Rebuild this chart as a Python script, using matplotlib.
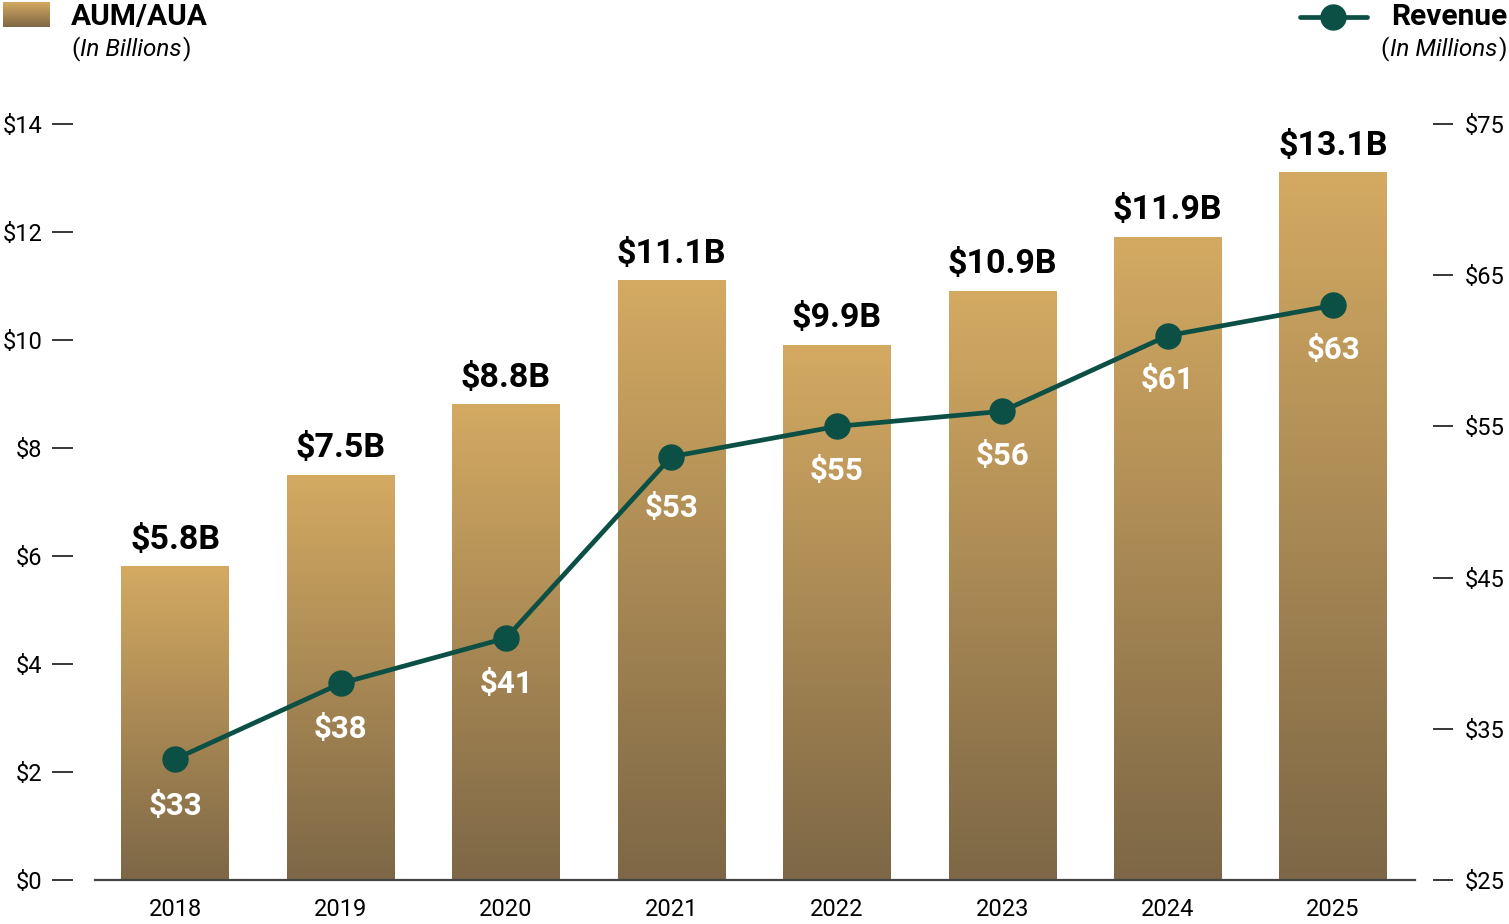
import numpy as np
import matplotlib
matplotlib.use("Agg")
import matplotlib.pyplot as plt
from matplotlib.colors import LinearSegmentedColormap
from matplotlib.lines import Line2D

years = ['2018', '2019', '2020', '2021', '2022', '2023', '2024', '2025']
aum = [5.8, 7.5, 8.8, 11.1, 9.9, 10.9, 11.9, 13.1]
aum_labels = ['$5.8B', '$7.5B', '$8.8B', '$11.1B', '$9.9B', '$10.9B', '$11.9B', '$13.1B']
revenue = [33, 38, 41, 53, 55, 56, 61, 63]
rev_labels = ['$33', '$38', '$41', '$53', '$55', '$56', '$61', '$63']
left_ticks = [0, 2, 4, 6, 8, 10, 12, 14]
right_ticks = [25, 35, 45, 55, 65, 75]

plt.rcParams['font.family'] = ['Roboto', 'DejaVu Sans']

gold_top = '#d4aa62'
gold_bot = '#7d6746'
green = '#0c5045'
cmap = LinearSegmentedColormap.from_list('gold', [gold_bot, gold_top])
grad = np.linspace(0, 1, 256).reshape(-1, 1)

fig = plt.figure(figsize=(15.09, 9.24), dpi=100)
ax = fig.add_axes((95/1509, 44/924, 1320/1509, 756/924))
ax2 = ax.twinx()

x = np.arange(len(years))
w = 0.65
bars = ax.bar(x, aum, width=w, color='none', edgecolor='none', zorder=2)
for b in bars:
    x0, y0 = b.get_x(), b.get_y()
    bw, bh = b.get_width(), b.get_height()
    ax.imshow(grad, cmap=cmap, origin='lower', aspect='auto',
              extent=(x0, x0 + bw, y0, y0 + bh), zorder=2)
for xi, v, lab in zip(x, aum, aum_labels):
    ax.annotate(lab, (xi, v), xytext=(0, 13), textcoords='offset points',
                ha='center', va='baseline', fontsize=24.5, fontweight='bold', color='black')

ax.set_xlim(-0.485, len(years) - 1 + 0.495)
ax.set_ylim(0, 14)
ax.set_yticks(left_ticks)
ax.set_yticklabels(['$%d' % t for t in left_ticks])
ax.set_xticks(x)
ax.set_xticklabels(years)
ax.tick_params(axis='x', length=0, pad=13, labelsize=17)
ax.tick_params(axis='y', length=15, width=1.1, pad=7, labelsize=17, color='black')
for s in ['top', 'right']:
    ax.spines[s].set_visible(False)
ax.spines['left'].set_position(('outward', 16))
ax.spines['left'].set_visible(False)
ax.spines['bottom'].set_color('#444444')
ax.spines['bottom'].set_linewidth(1.6)

ax2.plot(x, revenue, color=green, lw=3.4, marker='o', markersize=18, zorder=5)
offsets = [-34, -33, -33, -37, -32, -32, -32, -32]
for xi, v, lab, off in zip(x, revenue, rev_labels, offsets):
    ax2.annotate(lab, (xi, v), xytext=(0, off), textcoords='offset points',
                 ha='center', va='center', fontsize=22.5, fontweight='bold', color='white')
ax2.set_ylim(25, 75)
ax2.set_yticks(right_ticks)
ax2.set_yticklabels(['$%d' % t for t in right_ticks])
ax2.tick_params(axis='y', length=14.5, width=1.1, pad=8, labelsize=17, color='black')
for s in ['top', 'left', 'bottom']:
    ax2.spines[s].set_visible(False)
ax2.spines['right'].set_position(('outward', 13))
ax2.spines['right'].set_visible(False)

# legend, top left
sub_y = 1 - 49/924
sub_fs = 17.5
sw = fig.add_axes((3/1509, 1 - 27/924, 47/1509, 25/924))
sw.imshow(grad, cmap=cmap, origin='lower', aspect='auto')
sw.axis('off')
fig.text(71/1509, 1 - 17/924, 'AUM/AUA', fontsize=21.5, fontweight='bold', va='center', ha='left')
p1 = fig.text(71/1509, sub_y, '(', fontsize=sub_fs, va='center', ha='left')
fig.canvas.draw()
bb = p1.get_window_extent()
t1 = fig.text((bb.x1 + 1) / 1509, sub_y, 'In Billions', fontsize=sub_fs, style='italic',
              va='center', ha='left')
fig.canvas.draw()
bb = t1.get_window_extent()
fig.text((bb.x1 + 1) / 1509, sub_y, ')', fontsize=sub_fs, va='center', ha='left')

# legend, top right
fig.add_artist(Line2D([1300/1509, 1367/1509], [1 - 17/924, 1 - 17/924], transform=fig.transFigure,
                      color=green, lw=3.4, solid_capstyle='round'))
fig.add_artist(Line2D([1333/1509], [1 - 17/924], transform=fig.transFigure,
                      color=green, marker='o', markersize=18))
fig.text(1507/1509, 1 - 17/924, 'Revenue', fontsize=21.5, fontweight='bold', va='center', ha='right')
p2 = fig.text(1507/1509, sub_y, ')', fontsize=sub_fs, va='center', ha='right')
fig.canvas.draw()
bb = p2.get_window_extent()
t2 = fig.text((bb.x0 - 1) / 1509, sub_y, 'In Millions', fontsize=sub_fs, style='italic',
              va='center', ha='right')
fig.canvas.draw()
bb = t2.get_window_extent()
fig.text((bb.x0 - 1) / 1509, sub_y, '(', fontsize=sub_fs, va='center', ha='right')

fig.savefig('out.png', dpi=100)
